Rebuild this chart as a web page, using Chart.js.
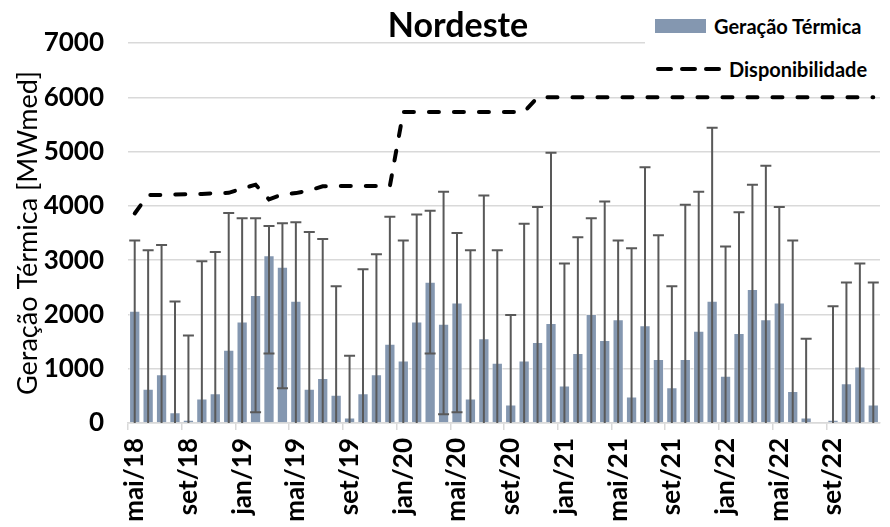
<!DOCTYPE html>
<html>
<head>
<meta charset="utf-8">
<script src="https://cdn.jsdelivr.net/npm/chart.js@4/dist/chart.umd.min.js"></script>
<style>
  body { margin: 0; background: #fff; }
  #wrap { position: relative; width: 890px; height: 527px; font-family: Lato, sans-serif; }
  #title { position: absolute; left: 358px; width: 200px; top: 4px; text-align: center;
           font-size: 34px; font-weight: bold; color: #000; line-height: 40px; }
  #legend { position: absolute; left: 645px; top: 8px; width: 245px; height: 80px; background: #fff;
            font-weight: bold; font-size: 20px; color: #000; }
  .row { position: absolute; left: 10px; display: flex; align-items: center; white-space: nowrap; }
  .swBar { width: 51px; height: 14px; background: #8497b0; margin-right: 8px; }
  .row svg { margin-right: 6px; }
</style>
</head>
<body>
<div id="wrap">
  <canvas id="chart" width="890" height="527"></canvas>
  <div id="title">Nordeste</div>
  <div id="legend">
    <div class="row" style="top:6px"><div class="swBar"></div><span>Geração Térmica</span></div>
    <div class="row" style="top:49px">
      <svg width="68" height="8"><line x1="3" y1="4" x2="65" y2="4" stroke="#000" stroke-width="4" stroke-dasharray="13 11" stroke-linecap="round"/></svg>
      <span>Disponibilidade</span>
    </div>
  </div>
</div>
<script>
const months = [
  "mai/18","jun/18","jul/18","ago/18","set/18","out/18","nov/18","dez/18",
  "jan/19","fev/19","mar/19","abr/19","mai/19","jun/19","jul/19","ago/19","set/19","out/19","nov/19","dez/19",
  "jan/20","fev/20","mar/20","abr/20","mai/20","jun/20","jul/20","ago/20","set/20","out/20","nov/20","dez/20",
  "jan/21","fev/21","mar/21","abr/21","mai/21","jun/21","jul/21","ago/21","set/21","out/21","nov/21","dez/21",
  "jan/22","fev/22","mar/22","abr/22","mai/22","jun/22","jul/22","ago/22","set/22","out/22","nov/22","dez/22"
];

// geração térmica média mensal (MWmed)
const geracao = [
  2070, 630, 900, 200, 60, 450, 550, 1350,
  1870, 2360, 3090, 2880, 2250, 630, 830, 520, 100, 550, 900, 1460,
  1150, 1870, 2600, 1830, 2220, 450, 1560, 1110, 340, 1150, 1490, 1840,
  690, 1290, 2010, 1530, 1910, 490, 1800, 1180, 660, 1180, 1700, 2250,
  870, 1660, 2470, 1910, 2220, 590, 100, null, 60, 730, 1040, 340
];

// faixa mín / máx (barras de erro)
const faixaMin = [
  0, 0, 0, 0, 0, 0, 0, 0,
  0, 200, 1280, 640, 0, 0, 0, 0, 0, 0, 0, 0,
  0, 0, 1280, 160, 200, 0, 0, 0, 0, 0, 0, 0,
  0, 0, 0, 0, 0, 0, 0, 0, 0, 0, 0, 0,
  0, 0, 0, 0, 0, 0, 0, null, 0, 0, 0, 0
];
const faixaMax = [
  3360, 3180, 3280, 2240, 1610, 2980, 3150, 3870,
  3770, 3770, 3630, 3680, 3700, 3520, 3390, 2520, 1240, 2830, 3110, 3800,
  3360, 3840, 3910, 4260, 3500, 3180, 4190, 3180, 1990, 3670, 3980, 4980,
  2940, 3420, 3770, 4080, 3360, 3220, 4710, 3460, 2520, 4020, 4260, 5440,
  3250, 3880, 4390, 4740, 3980, 3360, 1550, null, 2150, 2590, 2940, 2590
];

const disponibilidade = [
  3860, 4200, 4200, 4210, 4215, 4220, 4235, 4240,
  4320, 4390, 4120, 4210, 4235, 4285, 4360, 4365, 4365, 4365, 4365, 4365,
  5730, 5730, 5730, 5730, 5730, 5730, 5730, 5730, 5730, 5730, 6000, 6000,
  6000, 6000, 6000, 6000, 6000, 6000, 6000, 6000, 6000, 6000, 6000, 6000,
  6000, 6000, 6000, 6000, 6000, 6000, 6000, 6000, 6000, 6000, 6000, 6000
];

const errorBars = {
  id: "errorBars",
  afterDatasetDraw(chart, args) {
    if (args.meta.type !== "bar") return;
    const { ctx, scales: { x, y } } = chart;
    ctx.save();
    ctx.strokeStyle = "#595959";
    ctx.lineWidth = 2;
    faixaMax.forEach((hi, i) => {
      if (hi == null) return;
      const px = x.getPixelForValue(i);
      const top = y.getPixelForValue(hi);
      const bot = y.getPixelForValue(faixaMin[i]);
      ctx.beginPath();
      ctx.moveTo(px, bot);
      ctx.lineTo(px, top);
      ctx.moveTo(px - 5.5, top);
      ctx.lineTo(px + 5.5, top);
      if (faixaMin[i] > 0) {
        ctx.moveTo(px - 5.5, bot);
        ctx.lineTo(px + 5.5, bot);
      }
      ctx.stroke();
    });
    ctx.restore();
  }
};

const font = "Lato, sans-serif";

new Chart(document.getElementById("chart"), {
  type: "bar",
  data: {
    labels: months,
    datasets: [
      {
        type: "line", label: "Disponibilidade", data: disponibilidade,
        borderColor: "#000", borderWidth: 4, borderDash: [10, 15], borderCapStyle: "round",
        pointRadius: 0, tension: 0, fill: false
      },
      {
        type: "bar", label: "Geração Térmica", data: geracao,
        backgroundColor: "#8497b0", borderColor: "rgba(255,255,255,0.5)", borderWidth: 1,
        barPercentage: 0.84, categoryPercentage: 1
      }
    ]
  },
  options: {
    responsive: false,
    animation: false,
    layout: { padding: { right: 10, left: 0, top: 43, bottom: 0 } },
    plugins: {
      legend: { display: false },
      tooltip: { enabled: false },
      title: { display: false }
    },
    scales: {
      x: {
        grid: {
          offset: true, drawOnChartArea: false, drawTicks: true, tickLength: 7, lineWidth: 1.5,
          color: c => (c.index % 4 === 0 ? "#d9d9d9" : "rgba(0,0,0,0)")
        },
        border: { color: "#d9d9d9", width: 1.5 },
        ticks: {
          autoSkip: false, maxRotation: 90, minRotation: 90, padding: 8, color: "#000",
          font: { family: font, size: 26, weight: "bold" },
          callback: (v, i) => (i % 4 === 0 ? months[i] : "")
        },
        afterFit: s => { s.height = 104; s.paddingLeft = 0; s.paddingRight = 0; }
      },
      y: {
        min: 0, max: 7000,
        grid: { color: "#d9d9d9", lineWidth: 1.5, drawTicks: false },
        border: { display: false },
        ticks: {
          stepSize: 1000, padding: 24, color: "#000",
          font: { family: font, size: 26, weight: "bold" },
          callback: v => String(v)
        },
        title: {
          display: true, text: "Geração Térmica [MWmed]", color: "#000",
          font: { family: font, size: 27 },
          padding: { top: 12, bottom: 0 }
        },
        afterFit: s => { s.width = 128; s.paddingTop = 0; s.paddingBottom = 0; }
      }
    }
  },
  plugins: [errorBars]
});
</script>
</body>
</html>
